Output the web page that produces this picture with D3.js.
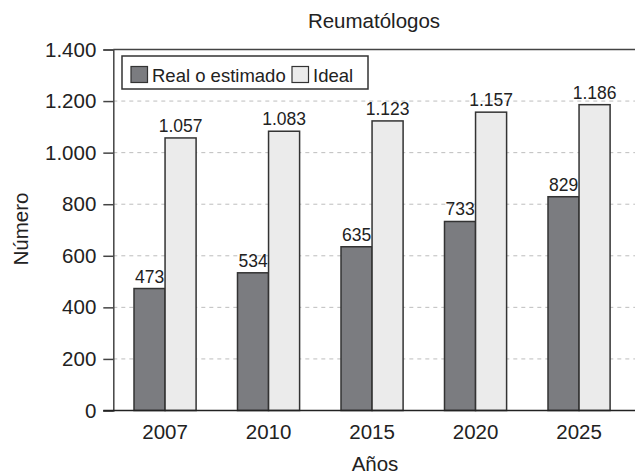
<!DOCTYPE html>
<html>
<head>
<meta charset="utf-8">
<script src="https://cdn.jsdelivr.net/npm/d3@7"></script>
<style>
  body { margin: 0; background: #fff; }
  svg { display: block; font-family: "Liberation Sans", Arial, sans-serif; }
</style>
</head>
<body>
<svg id="chart" width="635" height="476"></svg>
<script>
(function() {
    // chart data
    var years = ["2007", "2010", "2015", "2020", "2025"];
    var realValues = [473, 534, 635, 733, 829];
    var idealValues = [1057, 1083, 1123, 1157, 1186];
    var seriesNames = ["Real o estimado", "Ideal"];
    var yTicks = [0, 200, 400, 600, 800, 1000, 1200, 1400];

    var colors = ["#7b7c80", "#ebebeb"];
    var ink = "#222";

    var svg = d3.select("#chart");
    var left = 113.3, top = 49.5, bottom = 410.5, right = 640;

    var x = d3.scaleBand()
        .domain(years)
        .range([left, left + 5 * 103.5])
        .paddingInner(0.4)
        .paddingOuter(0.2);

    var xSub = d3.scaleBand()
        .domain(seriesNames)
        .range([0, x.bandwidth()]);

    var y = d3.scaleLinear()
        .domain([0, 1400])
        .range([bottom, top]);

    // number format with dot thousands separator
    var fmt = d3.formatLocale({decimal: ",", thousands: ".", grouping: [3], currency: ["", ""]}).format(",d");

    // gridlines
    svg.append("g")
        .selectAll("line")
        .data(yTicks.filter(function(d) { return d > 0 && d < 1400; }))
        .join("line")
        .attr("x1", left)
        .attr("x2", right)
        .attr("y1", function(d) { return y(d); })
        .attr("y2", function(d) { return y(d); })
        .style("stroke", "#bdbdbd")
        .style("stroke-width", 1)
        .style("stroke-dasharray", "4,4");

    // bars
    var rows = years.map(function(yr, i) {
        return {year: yr, values: [realValues[i], idealValues[i]]};
    });

    var groups = svg.append("g")
        .selectAll("g")
        .data(rows)
        .join("g")
        .attr("transform", function(d) { return "translate(" + x(d.year) + ",0)"; });

    groups.selectAll("rect")
        .data(function(d) { return d.values.map(function(v, k) { return {name: seriesNames[k], value: v, k: k}; }); })
        .join("rect")
        .attr("x", function(d) { return xSub(d.name); })
        .attr("y", function(d) { return y(d.value); })
        .attr("width", xSub.bandwidth())
        .attr("height", function(d) { return y(0) - y(d.value); })
        .style("fill", function(d) { return colors[d.k]; })
        .style("stroke", "#333")
        .style("stroke-width", 1.5);

    groups.selectAll("text")
        .data(function(d) { return d.values.map(function(v, k) { return {name: seriesNames[k], value: v}; }); })
        .join("text")
        .attr("x", function(d) { return xSub(d.name) + xSub.bandwidth() / 2; })
        .attr("y", function(d) { return y(d.value) - 6; })
        .attr("text-anchor", "middle")
        .style("font-size", "17.5px")
        .style("fill", ink)
        .text(function(d) { return fmt(d.value); });

    // frame: top border
    svg.append("line")
        .attr("x1", left).attr("x2", right)
        .attr("y1", top).attr("y2", top)
        .style("stroke", "#444").style("stroke-width", 1.5);

    // y axis
    var yAxis = svg.append("g")
        .attr("transform", "translate(" + left + ",0)")
        .call(d3.axisLeft(y).tickValues(yTicks).tickSize(10).tickPadding(7).tickFormat(fmt));
    yAxis.select(".domain").style("stroke", "#444").style("stroke-width", 1.5);
    yAxis.selectAll(".tick line").style("stroke", "#444").style("stroke-width", 1.5);
    yAxis.selectAll(".tick text")
        .style("font-size", "20.5px")
        .style("font-family", "Liberation Sans, Arial, sans-serif")
        .style("fill", ink);

    // x axis
    var xAxis = svg.append("g")
        .attr("transform", "translate(0," + bottom + ")")
        .call(d3.axisBottom(x).tickSize(0).tickPadding(14));
    xAxis.select(".domain").remove();
    xAxis.selectAll(".tick text")
        .style("font-size", "20.5px")
        .style("font-family", "Liberation Sans, Arial, sans-serif")
        .style("fill", ink);
    svg.append("line")
        .attr("x1", left - 10).attr("x2", right)
        .attr("y1", bottom).attr("y2", bottom)
        .style("stroke", "#222").style("stroke-width", 1.5);

    // titles
    svg.append("text")
        .attr("x", 374).attr("y", 28)
        .attr("text-anchor", "middle")
        .style("font-size", "20.5px").style("fill", ink)
        .text("Reumatólogos");

    svg.append("text")
        .attr("x", 375).attr("y", 471)
        .attr("text-anchor", "middle")
        .style("font-size", "20.5px").style("fill", ink)
        .text("Años");

    svg.append("text")
        .attr("transform", "translate(28,229) rotate(-90)")
        .attr("text-anchor", "middle")
        .style("font-size", "20.5px").style("fill", ink)
        .text("Número");

    // legend
    var legend = svg.append("g");
    legend.append("rect")
        .attr("x", 122).attr("y", 56)
        .attr("width", 246).attr("height", 33)
        .style("fill", "#fff")
        .style("stroke", "#333").style("stroke-width", 1.5);

    var legendX = [131, 292];
    var legendItems = legend.selectAll("g")
        .data(seriesNames)
        .join("g")
        .attr("transform", function(d, i) { return "translate(" + legendX[i] + ",66.5)"; });
    legendItems.append("rect")
        .attr("width", 16.5).attr("height", 16)
        .style("fill", function(d, i) { return colors[i]; })
        .style("stroke", "#333").style("stroke-width", 1.2);
    legendItems.append("text")
        .attr("x", 21).attr("y", 15)
        .style("font-size", "18.5px").style("fill", ink)
        .text(function(d) { return d; });
})();
</script>
</body>
</html>
